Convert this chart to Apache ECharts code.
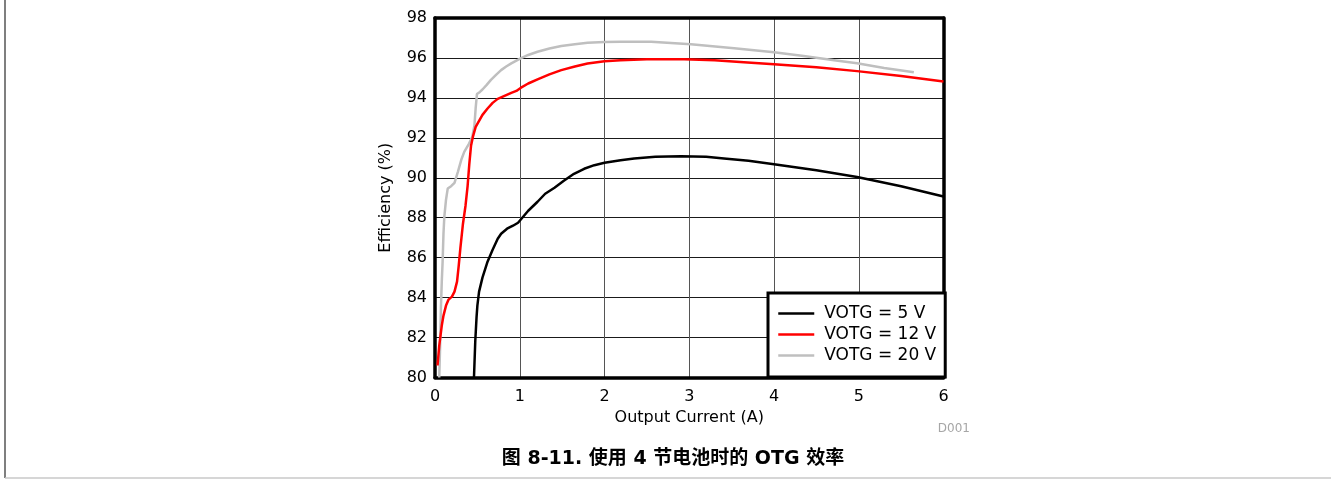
<!DOCTYPE html>
<html>
<head>
<meta charset="utf-8">
<script src="https://cdn.jsdelivr.net/npm/echarts@6/dist/echarts.min.js"></script>
<style>
html,body{margin:0;padding:0;background:#fff;}
#chart{width:1331px;height:480px;}
</style>
</head>
<body>
<div id="chart"></div>
<script>
// ---- data ----
const seriesNames = ['VOTG = 5 V', 'VOTG = 12 V', 'VOTG = 20 V'];

const current5 = [0.46,0.475,0.49,0.50,0.52,0.56,0.62,0.68,0.74,0.78,0.85,0.92,0.98,1.04,1.10,1.21,1.30,1.41,1.52,1.64,1.76,1.88,2.00,2.19,2.35,2.60,2.90,3.20,3.41,3.70,4.00,4.50,4.98,5.50,6.00];
const eff5     = [80.0,81.8,83.0,83.6,84.3,85.0,85.8,86.4,86.95,87.2,87.45,87.6,87.75,88.05,88.35,88.8,89.2,89.5,89.85,90.2,90.45,90.63,90.75,90.88,90.97,91.05,91.08,91.05,90.97,90.85,90.68,90.38,90.04,89.58,89.06];

const current12 = [0.03,0.05,0.08,0.10,0.13,0.16,0.20,0.23,0.26,0.28,0.30,0.33,0.36,0.385,0.405,0.425,0.45,0.48,0.56,0.62,0.68,0.74,0.82,0.90,0.96,1.01,1.10,1.21,1.35,1.49,1.65,1.80,2.00,2.19,2.50,2.94,3.30,3.60,4.00,4.50,4.98,5.50,6.00];
const eff12     = [80.6,81.6,82.6,83.1,83.6,83.9,84.05,84.3,84.8,85.6,86.5,87.7,88.6,89.6,90.7,91.6,92.1,92.55,93.15,93.47,93.75,93.95,94.1,94.25,94.35,94.5,94.72,94.93,95.18,95.39,95.57,95.72,95.83,95.89,95.93,95.94,95.88,95.8,95.69,95.53,95.34,95.1,94.82];

const current20 = [0.05,0.06,0.07,0.08,0.09,0.10,0.11,0.13,0.15,0.19,0.23,0.27,0.31,0.345,0.40,0.44,0.465,0.48,0.495,0.53,0.56,0.61,0.66,0.72,0.78,0.84,0.90,1.01,1.10,1.21,1.35,1.49,1.65,1.80,2.00,2.19,2.55,3.02,3.53,4.00,4.35,4.71,4.98,5.30,5.65];
const eff20     = [80.0,81.5,83.5,84.8,85.8,87.2,88.04,88.9,89.46,89.58,89.75,90.3,90.9,91.3,91.7,92.05,92.6,93.5,94.19,94.3,94.42,94.65,94.9,95.15,95.39,95.57,95.73,95.98,96.15,96.31,96.47,96.6,96.69,96.76,96.8,96.81,96.81,96.68,96.48,96.28,96.1,95.89,95.73,95.5,95.28];

const xTicks = [0,1,2,3,4,5,6];
const yTicks = [80,82,84,86,88,90,92,94,96,98];

const xName = 'Output Current (A)';
const yName = 'Efficiency (%)';
const captionText = '图 8-11. 使用 4 节电池时的 OTG 效率';
const codeText = 'D001';

// ---- build ----
function zip(xs, ys){ return xs.map((x,i)=>[x, ys[i]]); }
const colors = ['#000000', '#ff0000', '#bfbfbf'];
const dataSets = [zip(current5, eff5), zip(current12, eff12), zip(current20, eff20)];

const FONT = '"DejaVu Sans", "Noto Sans CJK SC", sans-serif';

const chart = echarts.init(document.getElementById('chart'), null, {renderer:'canvas'});
const option = {
  backgroundColor: '#ffffff',
  animation: false,
  grid: {left: 435, top: 18, width: 508.5, height: 359.5, containLabel: false},
  xAxis: [{
    type: 'value',
    min: xTicks[0], max: xTicks[xTicks.length-1], interval: 1,
    name: xName, nameLocation: 'middle', nameGap: 31,
    nameTextStyle: {fontFamily: FONT, fontSize: 16, color: '#000'},
    axisLine: {show: true, onZero: false, lineStyle: {color: '#000', width: 3.5}},
    axisTick: {show: false},
    axisLabel: {fontFamily: FONT, fontSize: 16, color: '#000', margin: 11},
    splitLine: {show: true, lineStyle: {color: '#555', width: 1}}
  }, {
    type: 'value', position: 'top',
    min: xTicks[0], max: xTicks[xTicks.length-1], interval: 1,
    axisLine: {show: true, onZero: false, lineStyle: {color: '#000', width: 3.5}},
    axisTick: {show: false}, axisLabel: {show: false}, splitLine: {show: false}
  }],
  yAxis: [{
    type: 'value',
    min: yTicks[0], max: yTicks[yTicks.length-1], interval: 2,
    name: yName, nameLocation: 'middle', nameGap: 41, nameRotate: 90,
    nameTextStyle: {fontFamily: FONT, fontSize: 16, color: '#000'},
    axisLine: {show: true, onZero: false, lineStyle: {color: '#000', width: 3.5}},
    axisTick: {show: false},
    axisLabel: {fontFamily: FONT, fontSize: 16, color: '#000', margin: 8},
    splitLine: {show: true, lineStyle: {color: '#1a1a1a', width: 1}}
  }, {
    type: 'value', position: 'right',
    min: yTicks[0], max: yTicks[yTicks.length-1], interval: 2,
    axisLine: {show: true, onZero: false, lineStyle: {color: '#000', width: 3.5}},
    axisTick: {show: false}, axisLabel: {show: false}, splitLine: {show: false}
  }],
  legend: {
    show: true,
    orient: 'vertical',
    left: 768, top: 293,
    padding: [12, 9, 13, 9],
    itemWidth: 36, itemHeight: 17, itemGap: 4,
    backgroundColor: '#ffffff',
    borderColor: '#000', borderWidth: 3,
    itemStyle: {color: 'rgba(0,0,0,0)', borderWidth: 0, opacity: 0},
    lineStyle: {width: 2.5},
    textStyle: {fontFamily: FONT, fontSize: 17, color: '#000', padding: [0,0,0,5]},
    data: seriesNames,
    z: 20
  },
  series: seriesNames.map((n, i) => ({
    name: n,
    type: 'line',
    xAxisIndex: 0, yAxisIndex: 0,
    data: dataSets[i],
    symbol: 'none',
    showSymbol: false,
    smooth: false,
    clip: true,
    lineStyle: {color: colors[i], width: 2.5},
    itemStyle: {color: colors[i]},
    z: 3 + (2 - i)
  })),
  graphic: [
    {type: 'line', silent: true, shape: {x1: 5, y1: 0, x2: 5, y2: 478}, style: {stroke: '#555', lineWidth: 1.5}},
    {type: 'line', silent: true, shape: {x1: 5, y1: 478, x2: 1331, y2: 478}, style: {stroke: '#c8c8c8', lineWidth: 1.5}},
    {type: 'text', silent: true, x: 673, y: 459,
      style: {text: captionText, font: 'bold 19px ' + FONT, fill: '#000', textAlign: 'center', textVerticalAlign: 'middle'}},
    {type: 'text', silent: true, x: 970, y: 429,
      style: {text: codeText, font: '12px ' + FONT, fill: '#a6a6a6', textAlign: 'right', textVerticalAlign: 'middle'}}
  ]
};
chart.setOption(option);
</script>
</body>
</html>
